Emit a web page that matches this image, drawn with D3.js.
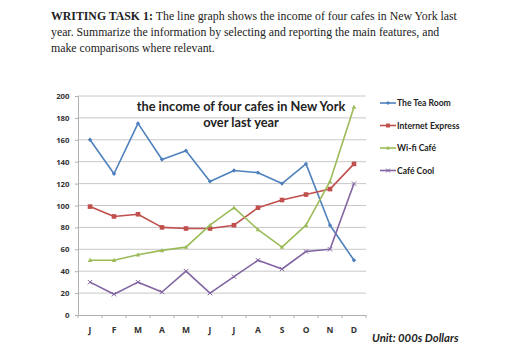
<!DOCTYPE html>
<html><head><meta charset="utf-8">
<script src="https://cdn.jsdelivr.net/npm/d3@7"></script>
<style>body{margin:0;background:#fff;}svg{display:block;}</style>
</head><body>
<script>
const months = ["J","F","M","A","M","J","J","A","S","O","N","D"];
const yTicks = [0,20,40,60,80,100,120,140,160,180,200];
const seriesNames = ["The Tea Room","Internet Express","Wi-fi Café","Café Cool"];
const teaRoom = [160,129,175,142,150,122,132,130,120,138,82,50];
const internetExpress = [99,90,92,80,79,79,82,98,105,110,115,138];
const wifiCafe = [50,50,55,59,62,82,98,78,62,82,122,190];
const cafeCool = [30,19,30,21,40,20,35,50,42,58,60,120];
const colors = ["#4F81BD","#C0504D","#9BBB59","#8064A2"];
const markers = ["diamond","square","triangle","cross"];
const allValues = [teaRoom, internetExpress, wifiCafe, cafeCool];

const W = 512, H = 355;
const svg = d3.select("body").append("svg").attr("width", W).attr("height", H);

// Header text
const head = svg.append("g").attr("font-family","'Liberation Serif', 'Times New Roman', serif").attr("font-size",11.8).attr("fill","#222");
const l1 = head.append("text").attr("x",51).attr("y",20);
l1.append("tspan").attr("font-weight","bold").text("WRITING TASK 1: ");
l1.append("tspan").text("The line graph shows the income of four cafes in New York last");
head.append("text").attr("x",51).attr("y",36).text("year. Summarize the information by selecting and reporting the main features, and");
head.append("text").attr("x",51).attr("y",52).text("make comparisons where relevant.");

const x = d3.scaleBand().domain(d3.range(12)).range([78, 366]);
const y = d3.scaleLinear().domain([0,200]).range([315, 96]);

// gridlines
svg.append("g").selectAll("line").data(yTicks.filter(d=>d>0)).join("line")
  .attr("x1",78).attr("x2",366).attr("y1",d=>y(d)).attr("y2",d=>y(d))
  .attr("stroke","#c8c8c8").attr("stroke-width",1);

// y axis
const yAxis = svg.append("g").attr("transform","translate(78,0)")
  .call(d3.axisLeft(y).tickValues(yTicks).tickSize(3).tickPadding(5.5));
yAxis.select(".domain").attr("stroke","#b0b0b0");
yAxis.selectAll(".tick line").attr("stroke","#b0b0b0");
yAxis.selectAll("text").attr("font-family","'Open Sans', sans-serif").attr("font-weight","bold").attr("font-size",7.8).attr("fill","#333");

// x axis
const xAxis = svg.append("g").attr("transform","translate(0,315)")
  .call(d3.axisBottom(x).tickFormat(i=>months[i]).tickSize(0).tickPadding(12));
xAxis.select(".domain").attr("stroke","#b0b0b0");
xAxis.selectAll("text").attr("font-family","'Open Sans', sans-serif").attr("font-weight","bold").attr("font-size",8.5).attr("fill","#333");
svg.append("g").selectAll("line").data(d3.range(13)).join("line")
  .attr("x1",d=>78+d*x.bandwidth()).attr("x2",d=>78+d*x.bandwidth())
  .attr("y1",315).attr("y2",318).attr("stroke","#b0b0b0");

const cx = i => x(i) + x.bandwidth()/2;
const line = d3.line().x((d,i)=>cx(i)).y(d=>y(d));

function drawMarker(g, type, color, px, py, s) {
  if (type==="diamond") {
    g.append("path").attr("d",`M${px},${py-s}L${px+s},${py}L${px},${py+s}L${px-s},${py}Z`).attr("fill",color);
  } else if (type==="square") {
    g.append("rect").attr("x",px-s).attr("y",py-s).attr("width",2*s).attr("height",2*s).attr("fill",color);
  } else if (type==="triangle") {
    g.append("path").attr("d",`M${px},${py-s*1.1}L${px+s},${py+s*0.8}L${px-s},${py+s*0.8}Z`).attr("fill",color);
  } else {
    g.append("path").attr("d",`M${px-s},${py-s}L${px+s},${py+s}M${px-s},${py+s}L${px+s},${py-s}`).attr("stroke",color).attr("stroke-width",1);
  }
}

allValues.forEach((vals, k) => {
  const g = svg.append("g");
  g.append("path").datum(vals).attr("d",line).attr("fill","none")
    .attr("stroke",colors[k]).attr("stroke-width",1.6).attr("stroke-linejoin","round");
  vals.forEach((v,i)=>drawMarker(g, markers[k], colors[k], cx(i), y(v), k===1?2.3:2.2));
});

// chart title
const t = svg.append("g").attr("font-family","Lato, 'Open Sans', sans-serif").attr("font-weight","bold").attr("font-size",12.8).attr("fill","#222").attr("text-anchor","middle");
t.append("text").attr("x",241).attr("y",111).text("the income of four cafes in New York");
t.append("text").attr("x",241).attr("y",127).text("over last year");

// legend
const lg = svg.append("g");
seriesNames.forEach((n,k)=>{
  const ly = 103 + k*22.5;
  lg.append("line").attr("x1",380).attr("x2",396).attr("y1",ly).attr("y2",ly).attr("stroke",colors[k]).attr("stroke-width",1.6);
  drawMarker(lg, markers[k], colors[k], 388, ly, 2);
  lg.append("text").attr("x",397).attr("y",ly+3).attr("font-family","Lato, 'Open Sans', sans-serif")
    .attr("font-weight","bold").attr("font-size",8.6).attr("fill","#222").text(n);
});

svg.append("text").attr("x",372).attr("y",342).attr("font-family","Lato, 'Open Sans', sans-serif")
  .attr("font-weight","bold").attr("font-style","italic").attr("font-size",11.3).attr("fill","#222")
  .text("Unit: 000s Dollars");
</script>
</body></html>
